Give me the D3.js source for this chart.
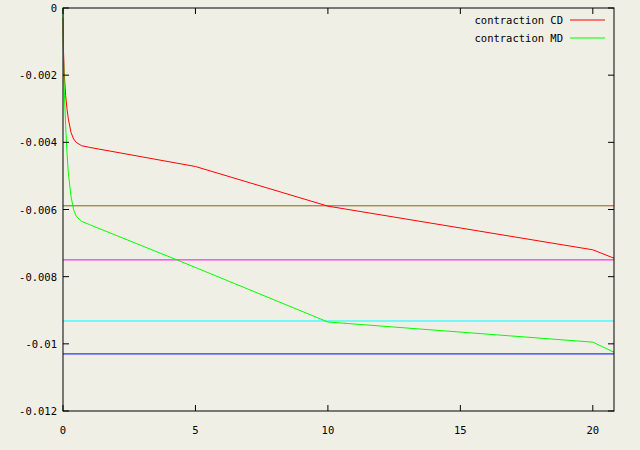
<!DOCTYPE html>
<html><head><meta charset="utf-8">
<script src="https://cdn.jsdelivr.net/npm/d3@7"></script>
<style>body{margin:0;background:#efefe6}</style></head>
<body><svg id="c" width="640" height="450"></svg>
<script>
const xTicks=[0,5,10,15,20];
const yTicks=[-0.012,-0.01,-0.008,-0.006,-0.004,-0.002,0];
const xs=[0,0.02,0.05,0.1,0.15,0.2,0.3,0.4,0.5,0.7,1,5,10,15,20,20.8];
const redY=[-0.3,-1.3,-2.0,-2.6,-3.0,-3.3,-3.7,-3.9,-4.0,-4.1,-4.15,-4.72,-5.9,-6.55,-7.2,-7.45];
const gxs=[0,0.02,0.05,0.1,0.15,0.2,0.3,0.4,0.5,0.7,1,4.3,8,10,15,20,20.8];
const greenY=[0,-1.5,-2.5,-3.5,-4.3,-4.9,-5.6,-6.0,-6.2,-6.35,-6.45,-7.5,-8.7,-9.35,-9.65,-9.95,-10.25];
const hLines=[{v:-0.00589,c:"#a0522d"},{v:-0.0075,c:"#ff00ff"},{v:-0.00932,c:"#00ffff"},{v:-0.0103,c:"#0000ff"}];
const series=[{name:"contraction CD",x:xs,y:redY,c:"#ff0000"},{name:"contraction MD",x:gxs,y:greenY,c:"#00ff00"}];
const svg=d3.select("#c");
svg.append("rect").attr("width",640).attr("height",450).attr("fill","#efefe6");
const L=63,R=614,T=8,B=411;
const x=d3.scaleLinear().domain([0,20.8]).range([L,R]);
const y=d3.scaleLinear().domain([-0.012,0]).range([B,T]);
const font="DejaVu Sans Mono, monospace";
hLines.forEach(h=>svg.append("line").attr("x1",L).attr("x2",R).attr("y1",y(h.v)).attr("y2",y(h.v)).attr("stroke",h.c));
const line=d3.line().x(d=>x(d[0])).y(d=>y(d[1]/1000));
series.forEach((s,i)=>{
 svg.append("path").attr("d",line(s.x.map((v,j)=>[v,s.y[j]]))).attr("fill","none").attr("stroke",s.c);
 const ly=20+18*i;
 svg.append("text").attr("x",563).attr("y",ly+4).attr("text-anchor","end").attr("font-family",font).attr("font-size",10.5).text(s.name);
 svg.append("line").attr("x1",570).attr("x2",605).attr("y1",ly).attr("y2",ly).attr("stroke",s.c);
});
svg.append("rect").attr("x",L).attr("y",T).attr("width",R-L).attr("height",B-T).attr("fill","none").attr("stroke","#000");
xTicks.forEach(t=>{
 svg.append("line").attr("x1",x(t)).attr("x2",x(t)).attr("y1",B).attr("y2",B-6).attr("stroke","#000");
 svg.append("line").attr("x1",x(t)).attr("x2",x(t)).attr("y1",T).attr("y2",T+6).attr("stroke","#000");
 svg.append("text").attr("x",x(t)).attr("y",B+23).attr("text-anchor","middle").attr("font-family",font).attr("font-size",10.5).text(t);
});
yTicks.forEach(t=>{
 svg.append("line").attr("x1",L).attr("x2",L+6).attr("y1",y(t)).attr("y2",y(t)).attr("stroke","#000");
 svg.append("line").attr("x1",R).attr("x2",R-6).attr("y1",y(t)).attr("y2",y(t)).attr("stroke","#000");
 svg.append("text").attr("x",L-6).attr("y",y(t)+4).attr("text-anchor","end").attr("font-family",font).attr("font-size",10.5).text(t===0?"0":String(+t.toFixed(3)));
});
</script></body></html>
